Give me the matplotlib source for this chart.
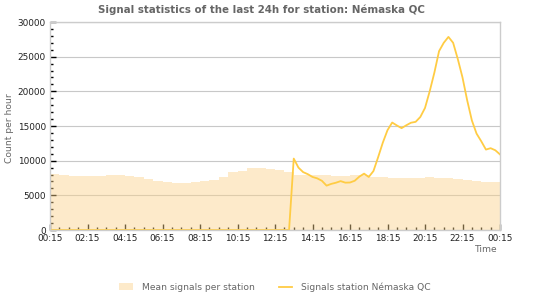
import numpy as np
import matplotlib
matplotlib.use('Agg')
import matplotlib.pyplot as plt
from matplotlib.ticker import MultipleLocator

# hours since 00:15
mean_hours = np.arange(0, 24.5, 0.5)
mean_signals = [8030, 7900, 7750, 7750, 7750, 7800, 7900, 7900, 7750, 7600,
                7300, 7000, 6860, 6720, 6720, 6860, 7000, 7150, 7600, 8300,
                8450, 8900, 9000, 8800, 8600, 8400, 7950, 7950, 7950, 7880,
                7780, 7780, 7880, 7880, 7640, 7640, 7500, 7500, 7550, 7550,
                7650, 7550, 7450, 7300, 7200, 7050, 6860, 6860, 6860]

station_hours = np.arange(0, 24.25, 0.25)
station_signals = [0] * 52 + [
    10300, 9000, 8350, 8050, 7650, 7450, 7100, 6400, 6650, 6820,
    7050, 6830, 6850, 7100, 7700, 8130, 7650, 8500, 10500, 12600,
    14400, 15500, 15080, 14690, 15100, 15470, 15600, 16300, 17600, 20000,
    22700, 25800, 27000, 27850, 27000, 24650, 22000, 18700, 15800, 13900,
    12800, 11600, 11800, 11500, 10900]

tick_hours = list(range(0, 25, 2))
tick_labels = ['00:15', '02:15', '04:15', '06:15', '08:15', '10:15', '12:15',
               '14:15', '16:15', '18:15', '20:15', '22:15', '00:15']

gray = '#666666'
fig = plt.figure(figsize=(5.5, 3), dpi=100)
ax = fig.add_axes([50 / 550, 1 - 230 / 300, 450 / 550, 208 / 300])

ax.set_axisbelow(True)
ax.grid(axis='y', color='#c8c8c8', linewidth=0.8)
ax.fill_between(mean_hours, mean_signals, step='post', color='#fbd28a',
                alpha=0.45, linewidth=0, label='Mean signals per station')
ax.plot(station_hours, station_signals, color='#ffcc44', linewidth=1.3,
        label='Signals station Némaska QC')

ax.set_xlim(0, 24)
ax.set_ylim(0, 30000)
ax.set_xticks(tick_hours)
ax.set_xticklabels(tick_labels)
ax.xaxis.set_minor_locator(MultipleLocator(0.5))
ax.yaxis.set_major_locator(MultipleLocator(5000))
ax.yaxis.set_minor_locator(MultipleLocator(1000))
ax.tick_params(which='major', direction='in', length=4, width=1, color='black',
               labelsize=6.4, labelcolor='#222222', pad=3)
ax.tick_params(which='minor', direction='in', length=2.5, width=1, color='black')
for s in ax.spines.values():
    s.set_color('#cccccc')
    s.set_linewidth(1)

fig.text(261 / 550, 1 - 10 / 300, 'Signal statistics of the last 24h for station: Némaska QC',
         ha='center', va='center', fontsize=7.4, fontweight='bold', color=gray)
fig.text(10 / 550, 1 - 128 / 300, 'Count per hour', rotation=90, ha='center',
         va='center', fontsize=6.6, color=gray)
fig.text(498 / 550, 1 - 249 / 300, 'Time', ha='right', va='center',
         fontsize=6.6, color=gray)

fig.legend(loc='center', bbox_to_anchor=(0.5, 1 - 287 / 300), ncol=2,
           frameon=False, fontsize=6.6, labelcolor=gray, handlelength=1.5,
           handletextpad=1.0, columnspacing=2.6)

fig.savefig('out.png', dpi=100)
